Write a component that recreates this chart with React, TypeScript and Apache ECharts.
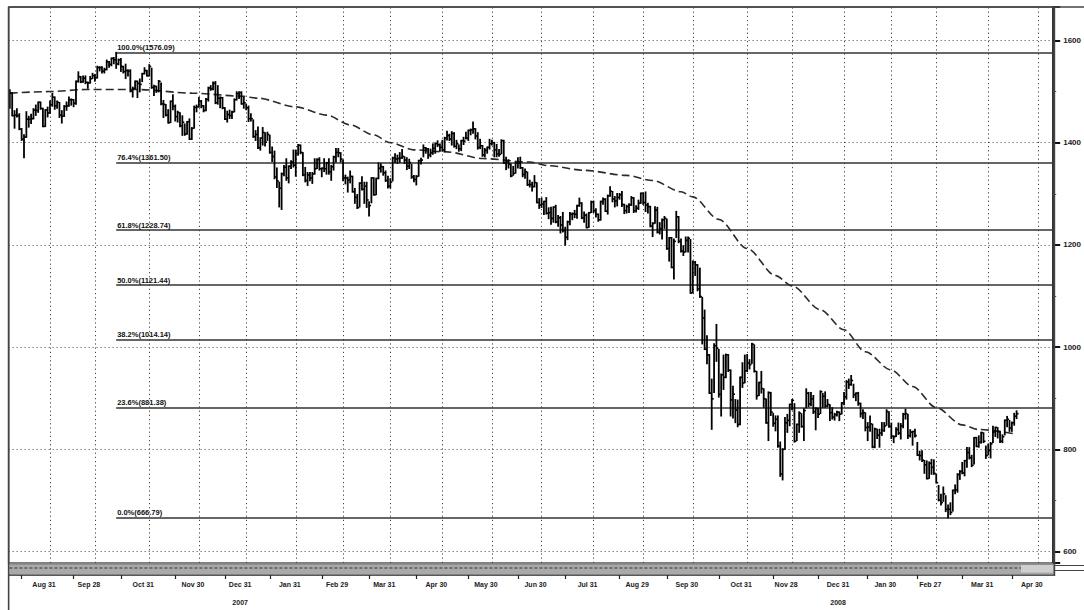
import React, { useEffect, useRef } from "react";
import * as echarts from "echarts";

// Trading days per month (category axis of the chart)
const tradingDays: [string, number[]][] = [
  ["2007-08", [8, 9, 10, 13, 14, 15, 16, 17, 20, 21, 22, 23, 24, 27, 28, 29, 30, 31]],
  ["2007-09", [4, 5, 6, 7, 10, 11, 12, 13, 14, 17, 18, 19, 20, 21, 24, 25, 26, 27, 28]],
  ["2007-10", [1, 2, 3, 4, 5, 8, 9, 10, 11, 12, 15, 16, 17, 18, 19, 22, 23, 24, 25, 26, 29, 30, 31]],
  ["2007-11", [1, 2, 5, 6, 7, 8, 9, 12, 13, 14, 15, 16, 19, 20, 21, 23, 26, 27, 28, 29, 30]],
  ["2007-12", [3, 4, 5, 6, 7, 10, 11, 12, 13, 14, 17, 18, 19, 20, 21, 24, 26, 27, 28, 31]],
  ["2008-01", [2, 3, 4, 7, 8, 9, 10, 11, 14, 15, 16, 17, 18, 22, 23, 24, 25, 28, 29, 30, 31]],
  ["2008-02", [1, 4, 5, 6, 7, 8, 11, 12, 13, 14, 15, 19, 20, 21, 22, 25, 26, 27, 28, 29]],
  ["2008-03", [3, 4, 5, 6, 7, 10, 11, 12, 13, 14, 17, 18, 19, 20, 24, 25, 26, 27, 28, 31]],
  ["2008-04", [1, 2, 3, 4, 7, 8, 9, 10, 11, 14, 15, 16, 17, 18, 21, 22, 23, 24, 25, 28, 29, 30]],
  ["2008-05", [1, 2, 5, 6, 7, 8, 9, 12, 13, 14, 15, 16, 19, 20, 21, 22, 23, 27, 28, 29, 30]],
  ["2008-06", [2, 3, 4, 5, 6, 9, 10, 11, 12, 13, 16, 17, 18, 19, 20, 23, 24, 25, 26, 27, 30]],
  ["2008-07", [1, 2, 3, 7, 8, 9, 10, 11, 14, 15, 16, 17, 18, 21, 22, 23, 24, 25, 28, 29, 30, 31]],
  ["2008-08", [1, 4, 5, 6, 7, 8, 11, 12, 13, 14, 15, 18, 19, 20, 21, 22, 25, 26, 27, 28, 29]],
  ["2008-09", [2, 3, 4, 5, 8, 9, 10, 11, 12, 15, 16, 17, 18, 19, 22, 23, 24, 25, 26, 29, 30]],
  ["2008-10", [1, 2, 3, 6, 7, 8, 9, 10, 13, 14, 15, 16, 17, 20, 21, 22, 23, 24, 27, 28, 29, 30, 31]],
  ["2008-11", [3, 4, 5, 6, 7, 10, 11, 12, 13, 14, 17, 18, 19, 20, 21, 24, 25, 26, 28]],
  ["2008-12", [1, 2, 3, 4, 5, 8, 9, 10, 11, 12, 15, 16, 17, 18, 19, 22, 23, 24, 26, 29, 30, 31]],
  ["2009-01", [2, 5, 6, 7, 8, 9, 12, 13, 14, 15, 16, 20, 21, 22, 23, 26, 27, 28, 29, 30]],
  ["2009-02", [2, 3, 4, 5, 6, 9, 10, 11, 12, 13, 17, 18, 19, 20, 23, 24, 25, 26, 27]],
  ["2009-03", [2, 3, 4, 5, 6, 9, 10, 11, 12, 13, 16, 17, 18, 19, 20, 23, 24, 25, 26, 27, 30, 31]],
  ["2009-04", [1, 2, 3, 6, 7, 8, 9, 13, 14, 15, 16, 17, 20, 21, 22, 23, 24, 27, 28, 29, 30]],
  ["2009-05", [1, 4, 5, 6, 7, 8]],
];

// Daily closes (from 2007-08-08)
const closes = [
  1497, 1453, 1454, 1453, 1427, 1407, 1411, 1446, 1446, 1447, 1464, 1463, 1479, 1467, 1432, 1464, 1458, 1474,
  1489, 1472, 1479, 1454, 1452, 1471, 1472, 1484, 1484, 1477, 1520, 1529, 1519, 1526, 1518, 1517, 1525, 1531, 1527,
  1547, 1547, 1540, 1543, 1558, 1553, 1565, 1562, 1554, 1562, 1549, 1539, 1541, 1540, 1501, 1506, 1520, 1516, 1514, 1535, 1541, 1531, 1549,
  1508, 1510, 1502, 1520, 1476, 1475, 1454, 1439, 1481, 1471, 1451, 1459, 1433, 1440, 1417, 1441, 1407, 1428, 1469, 1470, 1481,
  1472, 1463, 1485, 1507, 1505, 1516, 1478, 1487, 1488, 1468, 1446, 1455, 1453, 1460, 1484, 1496, 1498, 1476, 1478, 1468,
  1447, 1447, 1412, 1416, 1390, 1409, 1420, 1401, 1416, 1381, 1373, 1333, 1325, 1311, 1339, 1352, 1331, 1354, 1362, 1356, 1379,
  1395, 1381, 1337, 1326, 1337, 1331, 1339, 1349, 1367, 1349, 1350, 1349, 1360, 1343, 1353, 1372, 1381, 1380, 1368, 1331,
  1331, 1327, 1334, 1304, 1293, 1273, 1321, 1309, 1315, 1288, 1277, 1331, 1298, 1330, 1350, 1353, 1341, 1326, 1315, 1323,
  1370, 1368, 1369, 1370, 1373, 1366, 1354, 1361, 1333, 1328, 1334, 1365, 1366, 1390, 1388, 1376, 1380, 1389, 1398, 1396, 1391, 1386,
  1409, 1414, 1407, 1418, 1393, 1398, 1388, 1404, 1403, 1409, 1424, 1425, 1427, 1413, 1391, 1394, 1376, 1385, 1391, 1398, 1400,
  1386, 1378, 1377, 1404, 1361, 1362, 1358, 1335, 1340, 1360, 1360, 1351, 1338, 1343, 1318, 1318, 1314, 1322, 1283, 1278, 1280,
  1285, 1262, 1263, 1252, 1274, 1245, 1253, 1239, 1228, 1215, 1245, 1260, 1261, 1260, 1277, 1282, 1253, 1258, 1234, 1263, 1284, 1267,
  1260, 1249, 1285, 1289, 1266, 1296, 1305, 1290, 1286, 1293, 1298, 1279, 1267, 1275, 1278, 1292, 1267, 1272, 1282, 1301, 1283,
  1278, 1275, 1237, 1242, 1268, 1225, 1232, 1249, 1252, 1193, 1214, 1156, 1207, 1255, 1207, 1188, 1186, 1209, 1213, 1106, 1166,
  1161, 1114, 1099, 1057, 996, 985, 910, 899, 1003, 998, 908, 946, 941, 985, 955, 897, 908, 877, 849, 941, 930, 954, 969,
  966, 1006, 953, 905, 931, 919, 899, 852, 911, 873, 851, 859, 807, 752, 800, 852, 857, 888, 896,
  816, 849, 871, 845, 876, 910, 889, 899, 874, 880, 869, 913, 904, 885, 888, 872, 863, 868, 873, 869, 891, 903,
  932, 927, 935, 907, 910, 890, 870, 872, 843, 844, 850, 805, 840, 828, 832, 837, 846, 874, 845, 826,
  825, 839, 832, 846, 869, 870, 827, 834, 835, 827, 789, 788, 779, 770, 743, 773, 765, 753, 735,
  701, 696, 713, 683, 683, 677, 720, 721, 751, 757, 754, 778, 794, 784, 769, 823, 806, 814, 833, 816, 788, 798,
  811, 834, 843, 835, 816, 825, 857, 859, 842, 852, 865, 870,
];

const highs = [
  1503, 1497, 1462, 1466, 1456, 1427, 1415, 1460, 1451, 1455, 1466, 1473, 1479, 1479, 1467, 1464, 1469, 1481,
  1496, 1489, 1481, 1478, 1462, 1472, 1479, 1489, 1485, 1484, 1520, 1538, 1529, 1530, 1530, 1518, 1529, 1535, 1533,
  1549, 1548, 1548, 1545, 1561, 1558, 1565, 1566, 1576, 1563, 1564, 1549, 1553, 1542, 1542, 1508, 1520, 1520, 1524, 1535, 1546, 1541, 1552,
  1545, 1512, 1510, 1521, 1516, 1482, 1474, 1464, 1481, 1493, 1473, 1461, 1458, 1452, 1436, 1441, 1446, 1429, 1471, 1473, 1488,
  1482, 1472, 1486, 1508, 1511, 1518, 1519, 1511, 1489, 1488, 1468, 1461, 1463, 1461, 1485, 1499, 1499, 1499, 1488, 1475,
  1471, 1456, 1444, 1423, 1430, 1409, 1429, 1419, 1420, 1414, 1391, 1383, 1350, 1322, 1340, 1355, 1368, 1354, 1364, 1385, 1385,
  1396, 1395, 1380, 1351, 1341, 1341, 1341, 1368, 1368, 1370, 1350, 1368, 1361, 1368, 1355, 1373, 1388, 1388, 1380, 1365,
  1336, 1332, 1344, 1334, 1310, 1298, 1321, 1333, 1322, 1322, 1284, 1331, 1331, 1330, 1360, 1358, 1353, 1344, 1334, 1329,
  1371, 1378, 1375, 1380, 1386, 1372, 1370, 1367, 1357, 1335, 1335, 1365, 1369, 1395, 1390, 1388, 1387, 1397, 1399, 1403, 1397, 1404,
  1410, 1422, 1416, 1421, 1419, 1404, 1395, 1404, 1410, 1420, 1424, 1426, 1440, 1427, 1419, 1406, 1394, 1388, 1391, 1406, 1404,
  1400, 1396, 1386, 1405, 1404, 1371, 1366, 1358, 1353, 1361, 1370, 1371, 1351, 1348, 1342, 1326, 1322, 1335, 1321, 1290, 1291,
  1285, 1292, 1272, 1273, 1274, 1277, 1257, 1255, 1263, 1234, 1246, 1263, 1262, 1267, 1277, 1291, 1282, 1264, 1260, 1263, 1285, 1285,
  1270, 1260, 1285, 1291, 1290, 1297, 1313, 1304, 1294, 1300, 1300, 1304, 1279, 1277, 1280, 1294, 1292, 1276, 1287, 1301, 1301,
  1303, 1281, 1275, 1243, 1274, 1273, 1243, 1250, 1255, 1250, 1214, 1214, 1211, 1265, 1255, 1211, 1198, 1215, 1215, 1210, 1168,
  1167, 1161, 1154, 1097, 1072, 1022, 985, 937, 1006, 1044, 995, 947, 984, 986, 985, 955, 923, 897, 896, 941, 969, 984, 985,
  975, 1007, 1004, 952, 931, 952, 918, 898, 912, 911, 870, 865, 865, 814, 801, 862, 868, 888, 897,
  889, 849, 873, 869, 879, 918, 911, 911, 905, 881, 880, 914, 909, 912, 897, 887, 881, 870, 874, 873, 891, 911,
  934, 937, 944, 927, 910, 911, 890, 877, 871, 852, 865, 849, 841, 839, 839, 852, 852, 877, 873, 851,
  826, 842, 851, 850, 870, 878, 868, 838, 835, 839, 813, 796, 797, 778, 777, 775, 780, 779, 751,
  729, 712, 726, 709, 691, 695, 720, 730, 752, 758, 774, 778, 803, 803, 788, 823, 823, 826, 833, 832, 806, 810,
  813, 845, 843, 842, 834, 828, 857, 864, 856, 853, 870, 875,
];

const lows = [
  1468, 1453, 1429, 1451, 1426, 1405, 1371, 1411, 1431, 1438, 1447, 1454, 1460, 1466, 1432, 1432, 1451, 1458,
  1472, 1466, 1468, 1450, 1439, 1452, 1464, 1472, 1474, 1471, 1476, 1519, 1518, 1519, 1516, 1507, 1517, 1526, 1521,
  1527, 1541, 1537, 1537, 1543, 1548, 1551, 1555, 1546, 1553, 1540, 1537, 1526, 1531, 1500, 1490, 1506, 1489, 1500, 1520, 1535, 1531, 1531,
  1507, 1493, 1499, 1500, 1475, 1450, 1453, 1439, 1440, 1465, 1443, 1441, 1432, 1415, 1415, 1417, 1407, 1407, 1429, 1461, 1470,
  1469, 1461, 1463, 1482, 1503, 1504, 1477, 1476, 1469, 1467, 1446, 1441, 1448, 1448, 1461, 1484, 1487, 1476, 1468, 1465,
  1442, 1443, 1411, 1405, 1389, 1386, 1396, 1394, 1405, 1380, 1364, 1330, 1313, 1275, 1270, 1336, 1327, 1322, 1350, 1353, 1335,
  1376, 1379, 1336, 1324, 1317, 1326, 1321, 1339, 1350, 1347, 1334, 1344, 1339, 1339, 1327, 1347, 1363, 1373, 1363, 1326,
  1320, 1304, 1322, 1304, 1282, 1272, 1275, 1308, 1282, 1274, 1257, 1283, 1298, 1299, 1330, 1343, 1337, 1325, 1312, 1312,
  1326, 1362, 1360, 1362, 1370, 1360, 1348, 1350, 1331, 1324, 1318, 1335, 1359, 1373, 1380, 1370, 1373, 1378, 1380, 1393, 1384, 1384,
  1383, 1406, 1405, 1396, 1392, 1389, 1384, 1385, 1397, 1408, 1405, 1416, 1419, 1408, 1388, 1389, 1374, 1373, 1380, 1388, 1396,
  1373, 1373, 1374, 1379, 1360, 1348, 1351, 1334, 1337, 1341, 1351, 1350, 1334, 1331, 1317, 1314, 1306, 1314, 1283, 1272, 1274,
  1260, 1261, 1252, 1241, 1245, 1244, 1237, 1224, 1226, 1200, 1211, 1240, 1250, 1254, 1253, 1276, 1252, 1245, 1234, 1235, 1264, 1264,
  1255, 1247, 1249, 1280, 1266, 1261, 1296, 1285, 1275, 1277, 1290, 1276, 1262, 1263, 1264, 1278, 1264, 1265, 1270, 1282, 1280,
  1266, 1263, 1236, 1217, 1243, 1224, 1222, 1212, 1233, 1192, 1169, 1156, 1134, 1215, 1205, 1187, 1180, 1187, 1187, 1106, 1107,
  1141, 1111, 1098, 1007, 996, 968, 910, 840, 912, 973, 903, 866, 918, 941, 953, 866, 862, 853, 845, 849, 922, 931, 953,
  958, 969, 952, 899, 906, 911, 883, 852, 818, 867, 846, 837, 805, 748, 741, 801, 834, 847, 878,
  815, 818, 834, 844, 818, 882, 884, 886, 871, 839, 863, 871, 883, 883, 884, 857, 860, 858, 866, 857, 870, 888,
  899, 920, 926, 902, 896, 887, 864, 861, 837, 818, 836, 804, 804, 822, 805, 828, 836, 848, 844, 822,
  814, 826, 830, 821, 843, 860, 822, 825, 809, 825, 789, 780, 777, 754, 743, 744, 752, 752, 735,
  700, 692, 699, 679, 667, 673, 680, 714, 717, 742, 753, 749, 766, 782, 767, 772, 806, 805, 813, 814, 783, 790,
  784, 814, 826, 823, 814, 814, 829, 845, 836, 836, 848, 861,
];

// Moving average (dashed) at these dates
const maDates = [
  "2007-08-08", "2007-08-31", "2007-09-24", "2007-10-24", "2007-11-27", "2007-12-27", "2008-01-08", "2008-01-31",
  "2008-02-20", "2008-03-05", "2008-03-19", "2008-03-31", "2008-04-14", "2008-05-02", "2008-05-23", "2008-06-23",
  "2008-07-03", "2008-07-25", "2008-08-20", "2008-09-05", "2008-09-23", "2008-09-30", "2008-10-15", "2008-10-31",
  "2008-11-18", "2008-11-28", "2008-12-16", "2008-12-31", "2009-01-14", "2009-01-30", "2009-02-12", "2009-02-27",
  "2009-03-16", "2009-03-25", "2009-04-17",
];
const maValues = [
  1497, 1500, 1504, 1504, 1497, 1491, 1487, 1470,
  1454, 1435, 1415, 1400, 1386, 1382, 1369, 1362,
  1355, 1346, 1336, 1326, 1304, 1294, 1250, 1193,
  1140, 1120, 1073, 1034, 991, 955, 923, 882,
  848, 839, 830,
];

// Fibonacci retracement levels
const fibStartDate = "2007-10-11";
const fibPercents = ["100.0%", "76.4%", "61.8%", "50.0%", "38.2%", "23.6%", "0.0%"];
const fibValues = [1576.09, 1361.5, 1228.74, 1121.44, 1014.14, 881.38, 666.79];

// Year labels under the December month-end labels
const yearLabelDates = ["2007-12-31", "2008-12-31"];
const yearLabelTexts = ["2007", "2008"];

const MONTHS = ["Jan", "Feb", "Mar", "Apr", "May", "Jun", "Jul", "Aug", "Sep", "Oct", "Nov", "Dec"];
const FONT = "'Liberation Sans Narrow', 'Liberation Sans', Arial, sans-serif";

export default function App() {
  const ref = useRef<HTMLDivElement>(null);

  useEffect(() => {
    const el = ref.current;
    if (!el) return;
    const chart = echarts.init(el, null, { renderer: "svg" });

    const dates: string[] = [];
    tradingDays.forEach(([ym, days]) => {
      days.forEach((d) => dates.push(`${ym}-${String(d).padStart(2, "0")}`));
    });
    const n = dates.length;
    const ym = (i: number) => dates[i].slice(0, 7);
    const day = (i: number) => +dates[i].slice(8);
    const isMonthEnd = (i: number) => i + 1 < n && ym(i) !== ym(i + 1);
    const isMidMonth = (i: number) =>
      day(i) >= 15 && (i === 0 || ym(i - 1) !== ym(i) || day(i - 1) < 15);

    const bars = closes.map((c, i) => [i, highs[i], lows[i], c]);
    const maFull: (number | null)[] = dates.map(() => null);
    maDates.forEach((d, k) => {
      const idx = dates.indexOf(d);
      if (idx >= 0) maFull[idx] = maValues[k];
    });
    const monthEndIdx: number[] = [];
    for (let i = 0; i < n; i++) if (isMonthEnd(i)) monthEndIdx.push(i);
    const fibStart = dates.indexOf(fibStartDate);

    const xLabel = (v: string) => {
      const m = +v.slice(5, 7);
      const d = +v.slice(8);
      const base = `{m|${MONTHS[m - 1]} ${d}}`;
      const k = yearLabelDates.indexOf(v);
      return k >= 0 ? `${base}\n{y|${yearLabelTexts[k]}}` : base;
    };

    const lblStyle = { fontSize: 7, fontWeight: "bold" as const, fontFamily: FONT, color: "#1a1a1a" };

    const option: any = {
      animation: false,
      backgroundColor: "#fff",
      grid: {
        left: 8.64,
        right: 30.7,
        top: 7,
        bottom: 47,
        show: true,
        borderColor: "#555",
        borderWidth: 1.5,
        backgroundColor: "transparent",
      },
      xAxis: {
        type: "category",
        data: dates,
        boundaryGap: true,
        position: "bottom",
        offset: 12,
        axisLine: { show: true, lineStyle: { color: "#222", width: 1.5 } },
        axisTick: {
          show: true,
          alignWithLabel: true,
          interval: (i: number) => isMidMonth(i),
          length: 4,
          lineStyle: { color: "#222", width: 1.2 },
        },
        axisLabel: {
          interval: (i: number) => isMonthEnd(i),
          formatter: xLabel,
          margin: 5,
          align: "center",
          padding: [0, 12, 0, 0],
          ...lblStyle,
          rich: {
            m: { ...lblStyle, lineHeight: 9 },
            y: { ...lblStyle, lineHeight: 27 },
          },
        },
        splitLine: { show: false },
      },
      yAxis: {
        type: "value",
        position: "right",
        min: 577.9,
        max: 1665.4,
        splitNumber: 5,
        minInterval: 200,
        maxInterval: 200,
        axisLine: { show: true, lineStyle: { color: "#333", width: 2 } },
        axisTick: { show: true, length: 7, lineStyle: { color: "#111", width: 2 } },
        minorTick: { show: true, splitNumber: 2, length: 3, lineStyle: { color: "#555", width: 1 } },
        axisLabel: {
          showMinLabel: false,
          showMaxLabel: false,
          margin: 10,
          fontSize: 8,
          fontWeight: "bold",
          fontFamily: FONT,
          color: "#1a1a1a",
          formatter: (v: number) => String(Math.round(v)),
        },
        splitLine: {
          show: true,
          showMinLine: false,
          showMaxLine: false,
          lineStyle: { color: "#444", type: [1, 3], width: 1 },
        },
      },
      series: [
        {
          type: "line",
          name: "MA",
          data: maFull,
          connectNulls: true,
          symbol: "none",
          showSymbol: false,
          smooth: 0.3,
          smoothMonotone: "x",
          z: 2,
          lineStyle: { color: "#2a2a2a", width: 1.6, type: [8, 4] },
          markLine: {
            silent: true,
            z: 1,
            symbol: ["none", "none"],
            label: { show: false },
            lineStyle: { color: "#444", type: [1.2, 3], width: 1 },
            data: monthEndIdx.map((i) => ({ xAxis: i })),
          },
        },
        {
          type: "custom",
          name: "Price",
          z: 3,
          data: bars,
          encode: { x: 0, y: [1, 2, 3] },
          renderItem: (_params: any, api: any) => {
            const i = api.value(0);
            const hi = api.coord([i, api.value(1)]);
            const lo = api.coord([i, api.value(2)]);
            const cl = api.coord([i, api.value(3)]);
            return {
              type: "group",
              children: [
                {
                  type: "line",
                  shape: { x1: hi[0], y1: hi[1] - 0.8, x2: lo[0], y2: lo[1] + 0.8 },
                  style: { stroke: "#000", lineWidth: 1.8 },
                },
                {
                  type: "line",
                  shape: { x1: cl[0], y1: cl[1], x2: cl[0] + 2, y2: cl[1] },
                  style: { stroke: "#000", lineWidth: 1.6 },
                },
              ],
            };
          },
          markLine: {
            silent: true,
            z: 2,
            symbol: ["none", "none"],
            lineStyle: { color: "#333", type: "solid", width: 1.5 },
            label: {
              show: true,
              position: "insideStartTop",
              formatter: "{b}",
              distance: 1,
              fontSize: 7.5,
              fontWeight: "bold",
              fontFamily: FONT,
              color: "#111",
            },
            data: fibValues.map((v, k) => [
              { coord: [fibStart, v], name: `${fibPercents[k]}(${v.toFixed(2)})` },
              { coord: [n - 1, v] },
            ]),
          },
        },
      ],
      graphic: [
        { type: "line", z: 100, shape: { x1: 8.64, y1: 7, x2: 1084, y2: 7 }, style: { stroke: "#444", lineWidth: 1.5 } },
        { type: "line", z: 100, shape: { x1: 8.64, y1: 7, x2: 8.64, y2: 610 }, style: { stroke: "#444", lineWidth: 1.6 } },
        { type: "rect", z: 90, shape: { x: 9.4, y: 563.5, width: 1043.9, height: 11 }, style: { fill: "#a9a9a9" } },
        { type: "line", z: 91, shape: { x1: 9.4, y1: 564, x2: 1053.3, y2: 564 }, style: { stroke: "#777", lineWidth: 1 } },
        { type: "line", z: 91, shape: { x1: 9.4, y1: 568, x2: 1053.3, y2: 568 }, style: { stroke: "#5a5a5a", lineWidth: 1.5, lineDash: [3, 2] } },
        { type: "rect", z: 92, shape: { x: 1021, y: 565, width: 32, height: 7.5 }, style: { fill: "#cfcfcf" } },
        { type: "line", z: 100, shape: { x1: 1054.3, y1: 7, x2: 1054.3, y2: 576 }, style: { stroke: "#444", lineWidth: 1.8 } },
        { type: "line", z: 100, shape: { x1: 1054, y1: 565.5, x2: 1084, y2: 565.5 }, style: { stroke: "#444", lineWidth: 1 } },
        { type: "line", z: 100, shape: { x1: 1054, y1: 570.5, x2: 1084, y2: 570.5 }, style: { stroke: "#444", lineWidth: 1 } },
      ],
    };

    chart.setOption(option);
    return () => chart.dispose();
  }, []);

  return (
    <div
      ref={ref}
      style={{ position: "fixed", left: 0, top: 0, width: 1084, height: 610, background: "#fff" }}
    />
  );
}
